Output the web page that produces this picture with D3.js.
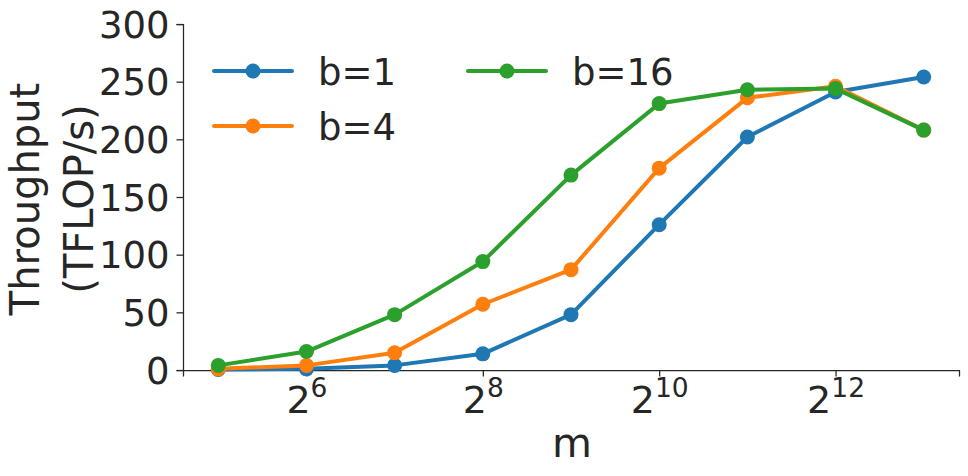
<!DOCTYPE html>
<html><head><meta charset="utf-8">
<script src="https://cdn.jsdelivr.net/npm/d3@7"></script>
<style>
body{margin:0;background:#fff;}
text{font-family:"DejaVu Sans",sans-serif;fill:#262626;}
</style></head>
<body><svg id="c" width="968" height="476"></svg>
<script>
const mValues = [32, 64, 128, 256, 512, 1024, 2048, 4096, 8192];
const b1 = [0.5, 1, 4, 14, 48, 126, 202, 241, 254];
const b4 = [1, 4, 15, 57, 87, 175, 236, 246, 208];
const b16 = [4, 16, 48, 94, 169, 231, 243, 244, 208];
const seriesNames = ["b=1", "b=4", "b=16"];
const seriesColors = ["#1f77b4", "#ff7f0e", "#2ca02c"];
const yTicks = [0, 50, 100, 150, 200, 250, 300];
const xTickExps = [6, 8, 10, 12];

const series = [b1, b4, b16];
const svg = d3.select("#c");
const pL = 183, pR = 959, pT = 24, pB = 370;
const x = d3.scaleLog().base(2).domain([Math.pow(2, 4.6), Math.pow(2, 13.4)]).range([pL, pR]);
const y = d3.scaleLinear().domain([0, 300]).range([pB, pT]);
const ink = "#262626";

// Y axis
const yAxis = svg.append("g").attr("transform", `translate(${pL},0)`)
  .call(d3.axisLeft(y).tickValues(yTicks).tickSize(6.5).tickPadding(7));
yAxis.select(".domain").attr("stroke", ink).attr("stroke-width", 1.25);
yAxis.selectAll(".tick line").attr("stroke", ink).attr("stroke-width", 1.25);
yAxis.selectAll(".tick text").attr("font-size", 37).attr("dy", "0.36em").attr("font-family", "DejaVu Sans").attr("fill", ink);

// X axis
const xAxis = svg.append("g").attr("transform", `translate(0,${pB})`)
  .call(d3.axisBottom(x).tickValues(xTickExps.map(e => Math.pow(2, e))).tickSize(6.5).tickFormat(""));
xAxis.select(".domain").attr("stroke", ink).attr("stroke-width", 1.25);
xAxis.selectAll(".tick line").attr("stroke", ink).attr("stroke-width", 1.25);
xAxis.selectAll(".tick").each(function(d, i) {
  const e = xTickExps[i];
  const t = d3.select(this).append("text").attr("y", 43).attr("text-anchor", "middle")
    .attr("font-size", 38).attr("fill", ink).attr("font-family", "DejaVu Sans");
  t.append("tspan").text("2");
  t.append("tspan").text(String(e)).attr("font-size", 26.5).attr("dy", -16);
});

// Axis labels
svg.append("text").attr("x", (pL + pR) / 2 + 1).attr("y", 457).attr("text-anchor", "middle")
  .attr("font-size", 41).text("m");
const yl = svg.append("text").attr("transform", `translate(0,199) rotate(-90)`).attr("text-anchor", "middle")
  .attr("font-size", 40);
yl.append("tspan").attr("x", 0).attr("y", 39).text("Throughput");
yl.append("tspan").attr("x", 0).attr("y", 93).text("(TFLOP/s)");

// Lines
const line = d3.line().x((d, i) => x(mValues[i])).y(d => y(d));
series.forEach((s, k) => {
  const g = svg.append("g");
  g.append("path").datum(s).attr("d", line).attr("fill", "none")
    .attr("stroke", seriesColors[k]).attr("stroke-width", 4).attr("stroke-linejoin", "round").attr("stroke-linecap", "round");
  g.selectAll("circle").data(s).enter().append("circle")
    .attr("cx", (d, i) => x(mValues[i])).attr("cy", d => y(d)).attr("r", 7.5).attr("fill", seriesColors[k]);
});

// Legend
const legPos = [[214, 71], [214, 126], [468, 71]];
seriesNames.forEach((n, k) => {
  const [lx, ly] = legPos[k];
  const g = svg.append("g");
  g.append("line").attr("x1", lx).attr("x2", lx + 78).attr("y1", ly).attr("y2", ly)
    .attr("stroke", seriesColors[k]).attr("stroke-width", 4).attr("stroke-linecap", "round");
  g.append("circle").attr("cx", lx + 39).attr("cy", ly).attr("r", 7.5).attr("fill", seriesColors[k]);
  g.append("text").attr("x", lx + 104).attr("y", ly + 13.5).attr("font-size", 37).text(n);
});
</script></body></html>
